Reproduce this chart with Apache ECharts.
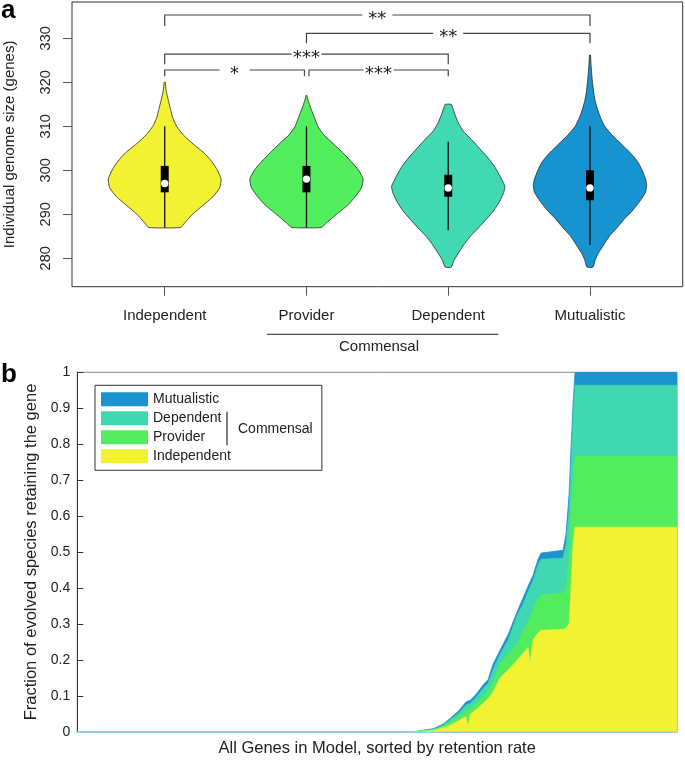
<!DOCTYPE html>
<html lang="en">
<head>
<meta charset="UTF-8">
<title>Genome size and gene retention</title>
<script src="https://cdn.jsdelivr.net/npm/echarts@6.0.0/dist/echarts.min.js"></script>
<style>
    html, body { margin: 0; padding: 0; background: #fff; }
    #chart { width: 685px; height: 760px; }
</style>
</head>
<body>
<div id="chart"></div>
<script>
// ---------- panel a: violins ----------
var groups = ['Independent', 'Provider', 'Dependent', 'Mutualistic'];
var groupColors = ['#f2f232', '#52ee5e', '#40d9b2', '#1793cf'];

// outline of each violin: genome size levels (bottom -> top) and relative width (max = 1)
var indepSize = [287, 288, 290, 292, 294, 296, 298, 300, 302, 304, 306, 308, 310, 312, 314, 316, 318, 320];
var indepDens = [0.28, 0.35, 0.49, 0.67, 0.85, 0.97, 0.995, 0.93, 0.83, 0.69, 0.50, 0.33, 0.21, 0.14, 0.10, 0.062, 0.027, 0.009];
var provSize = [287, 288, 290, 292, 294, 296, 298, 300, 302, 304, 306, 308, 310, 312, 314, 316, 317];
var provDens = [0.26, 0.35, 0.53, 0.72, 0.86, 0.97, 1.0, 0.92, 0.79, 0.64, 0.48, 0.31, 0.20, 0.14, 0.08, 0.026, 0.009];
var depSize = [278, 279.5, 281, 283, 285, 287, 289, 291, 293, 295, 296.3, 297, 299, 301, 303, 305, 307, 309, 311, 313, 314.5, 315];
var depDens = [0.053, 0.10, 0.17, 0.27, 0.39, 0.54, 0.68, 0.81, 0.91, 0.98, 1.0, 0.98, 0.90, 0.81, 0.69, 0.55, 0.41, 0.26, 0.17, 0.11, 0.07, 0.053];
var mutSize = [278, 279.5, 281, 283, 285, 287, 289, 291, 293, 295, 296.7, 298, 300, 302, 304, 306, 308, 310, 312, 314, 316, 318, 320, 322, 324, 326.2];
var mutDens = [0.053, 0.09, 0.14, 0.24, 0.34, 0.48, 0.61, 0.76, 0.88, 0.98, 1.0, 0.98, 0.92, 0.84, 0.71, 0.55, 0.39, 0.26, 0.185, 0.13, 0.088, 0.062, 0.044, 0.03, 0.018, 0.009];
var violinSize = [indepSize, provSize, depSize, mutSize];
var violinDens = [indepDens, provDens, depDens, mutDens];

// [lower whisker, q1, median, q3, upper whisker]
var boxStats = [
    [287, 295, 297, 301, 310],
    [287, 295, 298, 301, 310],
    [286.4, 294, 296, 299, 306.5],
    [283, 293.2, 296, 300, 310]
];

// significance brackets between groups (1-based group positions)
var bracketFrom = [1, 2, 1, 1, 2];
var bracketTo = [4, 4, 3, 2, 3];
var bracketLevel = [335.3, 331.1, 326.4, 322.8, 322.8];
var bracketBase = [332.8, 328.9, 324.1, 321.4, 321.4];
var bracketLabel = ['**', '**', '***', '*', '***'];

var sizeTicks = [280, 290, 300, 310, 320, 330];
var groupTicks = [1, 2, 3, 4];

// ---------- panel b: gene retention (each group's share) ----------
var geneRank = [0, 337, 348, 356, 366, 373, 381, 389, 391, 393, 399, 406, 411, 416, 423, 431, 440, 445, 451, 453, 456, 461, 464, 486, 489, 492, 494, 496, 498, 600];
var independentFrac = [0, 0, 0.002, 0.004, 0.011, 0.018, 0.030, 0.042, 0.012, 0.048, 0.062, 0.079, 0.092, 0.110, 0.150, 0.172, 0.199, 0.215, 0.235, 0.190, 0.255, 0.275, 0.282, 0.285, 0.290, 0.300, 0.400, 0.520, 0.569, 0.569];
var providerFrac = [0, 0, 0.001, 0.001, 0.004, 0.010, 0.013, 0.018, 0.051, 0.016, 0.018, 0.018, 0.023, 0.030, 0.040, 0.043, 0.047, 0.060, 0.070, 0.120, 0.083, 0.095, 0.100, 0.100, 0.110, 0.180, 0.220, 0.180, 0.198, 0.198];
var dependentFrac = [0, 0, 0.001, 0.001, 0.003, 0.005, 0.007, 0.015, 0.014, 0.015, 0.016, 0.023, 0.020, 0.032, 0.026, 0.040, 0.078, 0.075, 0.085, 0.082, 0.083, 0.095, 0.098, 0.098, 0.120, 0.140, 0.130, 0.180, 0.197, 0.197];
var mutualisticFrac = [0, 0, 0.001, 0.002, 0.003, 0.004, 0.006, 0.008, 0.008, 0.008, 0.008, 0.010, 0.010, 0.016, 0.011, 0.015, 0.009, 0.016, 0.015, 0.015, 0.014, 0.015, 0.017, 0.022, 0.030, 0.040, 0.040, 0.030, 0.036, 0.036];

var FONT = '"Liberation Sans", Arial, sans-serif';

// running totals, bottom layer first (value-axis stacking in echarts would stack x)
var layerFracs = [independentFrac, providerFrac, dependentFrac, mutualisticFrac];
var layerTops = [];
layerFracs.forEach(function (arr, li) {
    layerTops.push(arr.map(function (v, i) { return (li ? layerTops[li - 1][i] : 0) + v; }));
});

function pairs(ys) {
    return geneRank.map(function (r, i) { return [r, +ys[i].toFixed(4)]; });
}

function renderViolin(params, api) {
    var i = params.dataIndex;
    var c = i + 1;
    var sizes = violinSize[i], dens = violinDens[i];
    var half = 0.4; // widest point, in x units
    var pts = [];
    for (var k = 0; k < sizes.length; k++) {
        pts.push(api.coord([c + dens[k] * half, sizes[k]]));
    }
    for (var k2 = sizes.length - 1; k2 >= 0; k2--) {
        pts.push(api.coord([c - dens[k2] * half, sizes[k2]]));
    }
    var s = boxStats[i];
    var lo = api.coord([c, s[0]]), q1 = api.coord([c, s[1]]);
    var md = api.coord([c, s[2]]), q3 = api.coord([c, s[3]]), hi = api.coord([c, s[4]]);
    return {
        type: 'group',
        children: [
            { type: 'polygon', shape: { points: pts, smooth: 0.15 }, style: { fill: groupColors[i], stroke: '#2a2a2a', lineWidth: 0.8 } },
            { type: 'line', shape: { x1: lo[0], y1: lo[1], x2: hi[0], y2: hi[1] }, style: { stroke: '#111', lineWidth: 1.3, fill: 'none' } },
            { type: 'rect', shape: { x: q3[0] - 4, y: q3[1], width: 8, height: q1[1] - q3[1] }, style: { fill: '#000' } },
            { type: 'circle', shape: { cx: md[0], cy: md[1], r: 3.7 }, style: { fill: '#fff' } }
        ]
    };
}

function renderBracket(params, api) {
    var i = params.dataIndex;
    var a = api.coord([bracketFrom[i], bracketLevel[i]]);
    var b = api.coord([bracketTo[i], bracketLevel[i]]);
    var base = api.coord([1, bracketBase[i]])[1];
    var x1 = a[0], x2 = b[0], y = a[1];
    // keep neighbouring brackets on the same level apart
    for (var j = 0; j < bracketLabel.length; j++) {
        if (j === i || bracketLevel[j] !== bracketLevel[i]) continue;
        if (bracketTo[j] === bracketFrom[i]) x1 += 2.5;
        if (bracketFrom[j] === bracketTo[i]) x2 -= 2;
    }
    var mid = (x1 + x2) / 2, gap = 15;
    var st = { stroke: '#444', lineWidth: 1.2, fill: 'none' };
    return {
        type: 'group',
        children: [
            { type: 'polyline', shape: { points: [[x1, base], [x1, y], [mid - gap, y]] }, style: st },
            { type: 'polyline', shape: { points: [[mid + gap, y], [x2, y], [x2, base]] }, style: st },
            { type: 'text', style: { text: bracketLabel[i], x: mid, y: y + 4, align: 'center', verticalAlign: 'middle', font: '18px "DejaVu Sans"', fill: '#222' } }
        ]
    };
}

function areaSeries(name, color, tops, lw) {
    return {
        name: name, type: 'line', xAxisIndex: 1, yAxisIndex: 1,
        data: pairs(tops), showSymbol: false, color: color,
        lineStyle: { width: lw, color: color },
        areaStyle: { color: color, opacity: 1 }
    };
}

var myChart = echarts.init(document.getElementById('chart'));
myChart.setOption({
    animation: false,
    textStyle: { fontFamily: FONT },
    grid: [
        { left: 72, top: 2, width: 610.7, height: 284.7, show: true, borderColor: '#333', borderWidth: 1, outerBoundsMode: 'none', containLabel: false },
        { left: 77.3, top: 372.3, width: 599.7, height: 359.4, show: true, borderColor: '#888', borderWidth: 1, outerBoundsMode: 'none', containLabel: false }
    ],
    xAxis: [
        {
            type: 'value', gridIndex: 0, min: 0.346, max: 4.654,
            axisLine: { show: false },
            axisTick: { show: true, customValues: groupTicks, length: 9, lineStyle: { color: '#555' } },
            axisLabel: {
                customValues: groupTicks, margin: 22, fontSize: 15, color: '#222',
                formatter: function (v) { return groups[Math.round(v) - 1]; }
            },
            splitLine: { show: false }
        },
        {
            type: 'value', gridIndex: 1, min: 0, max: 600,
            axisLine: { show: true, lineStyle: { color: '#8fcfea', width: 2 } },
            axisTick: { show: false },
            axisLabel: { show: false },
            splitLine: { show: false },
            name: 'All Genes in Model, sorted by retention rate',
            nameLocation: 'middle', nameGap: 8,
            nameTextStyle: { fontSize: 16.5, color: '#222' }
        }
    ],
    yAxis: [
        {
            type: 'value', gridIndex: 0, min: 273.55, max: 338.25,
            axisLine: { show: false },
            axisTick: { show: true, customValues: sizeTicks, length: 9, lineStyle: { color: '#555' } },
            axisLabel: { customValues: sizeTicks, rotate: 90, margin: 19, fontSize: 14.5, color: '#222' },
            splitLine: { show: false },
            name: 'Individual genome size (genes)',
            nameLocation: 'middle', nameGap: 55,
            nameTextStyle: { fontSize: 15, color: '#222' }
        },
        {
            type: 'value', gridIndex: 1, min: 0, max: 1, interval: 0.1,
            axisLine: { show: true, lineStyle: { color: '#333' } },
            axisTick: { show: true, inside: true, length: 6, lineStyle: { color: '#333' } },
            axisLabel: { margin: 7, fontSize: 14, color: '#222' },
            splitLine: { show: false },
            name: 'Fraction of evolved species retaining the gene',
            nameLocation: 'middle', nameGap: 33,
            nameTextStyle: { fontSize: 16.5, color: '#222' }
        }
    ],
    legend: {
        data: ['Mutualistic', 'Dependent', 'Provider', 'Independent'],
        orient: 'vertical', left: 95, top: 385.3,
        itemWidth: 47, itemHeight: 14, itemGap: 5,
        icon: 'rect', selectedMode: false,
        padding: [7, 91, 7, 6],
        borderColor: '#333', borderWidth: 1,
        backgroundColor: '#fff',
        textStyle: { fontSize: 14, color: '#222' }
    },
    graphic: [
        { type: 'text', left: 1, top: -2, style: { text: 'a', font: 'bold 26px ' + FONT, fill: '#000' } },
        { type: 'text', left: 1, top: 362, style: { text: 'b', font: 'bold 26px ' + FONT, fill: '#000' } },
        { type: 'line', shape: { x1: 267, y1: 334.3, x2: 498.3, y2: 334.3 }, style: { stroke: '#222', lineWidth: 1 } },
        { type: 'text', x: 379, y: 346.5, style: { text: 'Commensal', font: '15px ' + FONT, fill: '#222', align: 'center', verticalAlign: 'middle' } },
        { type: 'line', shape: { x1: 227, y1: 411.7, x2: 227, y2: 445.3 }, style: { stroke: '#555', lineWidth: 1.5 }, z: 100 },
        { type: 'text', x: 238, y: 429.3, style: { text: 'Commensal', font: '14px ' + FONT, fill: '#222', align: 'left', verticalAlign: 'middle' }, z: 100 }
    ],
    series: [
        {
            name: 'violins', type: 'custom', xAxisIndex: 0, yAxisIndex: 0,
            renderItem: renderViolin,
            data: groups.map(function (g, i) { return [i + 1, boxStats[i][2]]; }),
            encode: { x: 0, y: 1 }, z: 2
        },
        {
            name: 'brackets', type: 'custom', xAxisIndex: 0, yAxisIndex: 0,
            renderItem: renderBracket,
            data: bracketLabel.map(function (l, i) { return [bracketFrom[i], bracketLevel[i]]; }),
            encode: { x: 0, y: 1 }, z: 3
        },
        // tallest layer first so the lower layers paint over it
        areaSeries('Mutualistic', '#1a93cf', layerTops[3], 0.8),
        areaSeries('Dependent', '#40d8b0', layerTops[2], 0.6),
        areaSeries('Provider', '#52ec5e', layerTops[1], 0.6),
        areaSeries('Independent', '#f2f232', layerTops[0], 0.6)
    ]
});
</script>
</body>
</html>
